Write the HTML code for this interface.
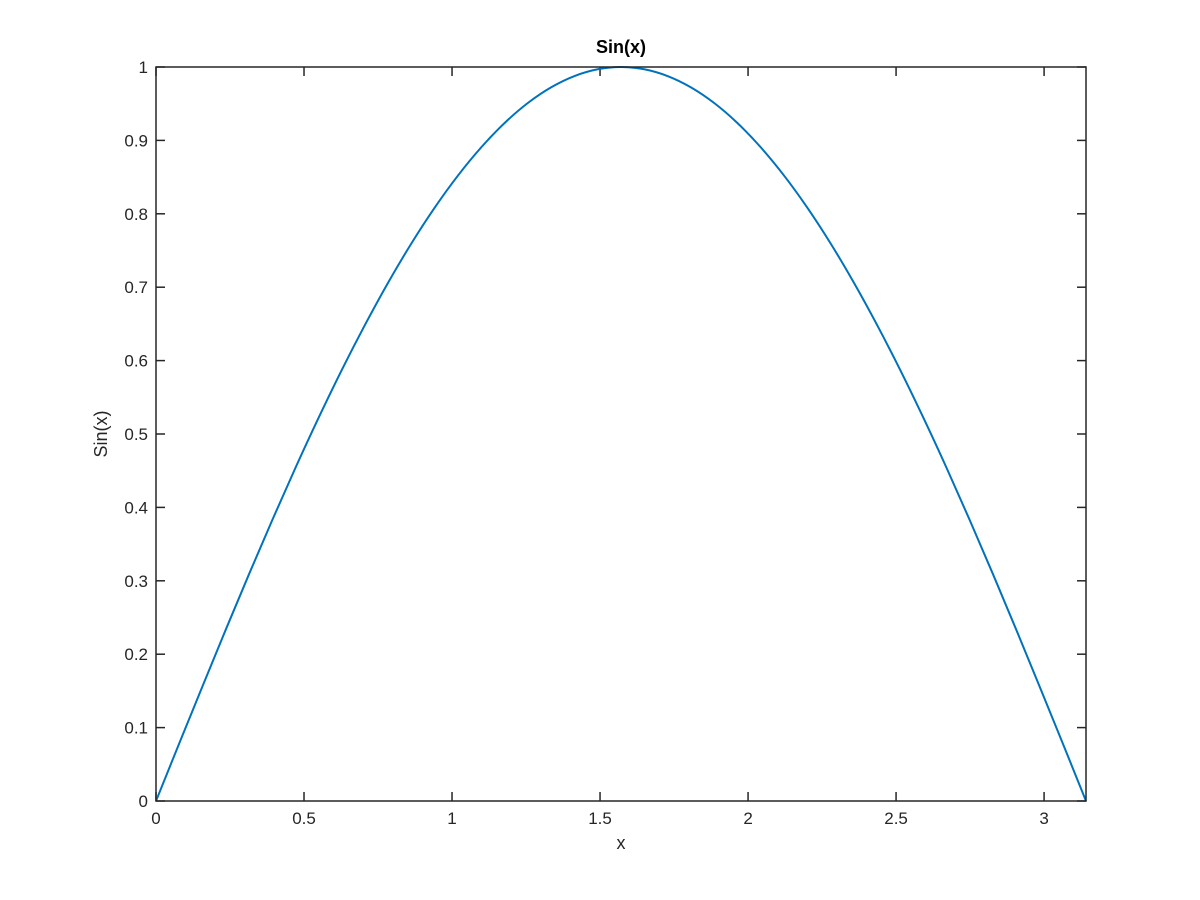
<!DOCTYPE html>
<html><head><meta charset="utf-8"><style>
html,body{margin:0;padding:0;background:#fff;}
svg{display:block;font-family:"Liberation Sans",sans-serif;}
</style></head><body>
<svg id="chart" width="1200" height="900">
<rect x="0" y="0" width="1200" height="900" fill="#fff"/>
</svg>
<script>
const xValues=[0,0.0785,0.1571,0.2356,0.3142,0.3927,0.4712,0.5498,0.6283,0.7069,0.7854,0.8639,0.9425,1.0210,1.0996,1.1781,1.2566,1.3352,1.4137,1.4923,1.5708,1.6493,1.7279,1.8064,1.8850,1.9635,2.0420,2.1206,2.1991,2.2777,2.3562,2.4347,2.5133,2.5918,2.6704,2.7489,2.8274,2.9060,2.9845,3.0631,3.1416];
const yValues=[0,0.0785,0.1564,0.2334,0.3090,0.3827,0.4540,0.5225,0.5878,0.6494,0.7071,0.7604,0.8090,0.8526,0.8910,0.9239,0.9511,0.9724,0.9877,0.9969,1,0.9969,0.9877,0.9724,0.9511,0.9239,0.8910,0.8526,0.8090,0.7604,0.7071,0.6494,0.5878,0.5225,0.4540,0.3827,0.3090,0.2334,0.1564,0.0785,0];
const xTicks=[0,0.5,1,1.5,2,2.5,3];
const xTickLabels=["0","0.5","1","1.5","2","2.5","3"];
const yTicks=[0,0.1,0.2,0.3,0.4,0.5,0.6,0.7,0.8,0.9,1];
const yTickLabels=["0","0.1","0.2","0.3","0.4","0.5","0.6","0.7","0.8","0.9","1"];
const xMin=0,xMax=3.1416,yMin=0,yMax=1;
const L=156,R=1086,T=67,B=801;
const NS="http://www.w3.org/2000/svg";
const svg=document.getElementById('chart');
function sx(v){return L+(v-xMin)/(xMax-xMin)*(R-L);}
function sy(v){return B-(v-yMin)/(yMax-yMin)*(B-T);}
function mk(tag,attrs){const e=document.createElementNS(NS,tag);for(const k in attrs)e.setAttribute(k,attrs[k]);svg.appendChild(e);return e;}
const tc="#262626";
// ticks
xTicks.forEach((t,i)=>{
  const x=sx(t);
  const a=mk('line',{x1:x,y1:B,x2:x,y2:B-9,stroke:tc,'stroke-width':1.5});
  
  
  const b=mk('line',{x1:x,y1:T,x2:x,y2:T+9,stroke:tc,'stroke-width':1.5});
  
  
  const l=mk('text',{x:x,y:B+23,'text-anchor':'middle','font-size':17,fill:tc});
  l.textContent=xTickLabels[i];
  
  
});
yTicks.forEach((t,i)=>{
  const y=sy(t);
  const a=mk('line',{x1:L,y1:y,x2:L+9,y2:y,stroke:tc,'stroke-width':1.5});
  
  
  const b=mk('line',{x1:R,y1:y,x2:R-9,y2:y,stroke:tc,'stroke-width':1.5});
  
  
  const l=mk('text',{x:L-8,y:y+6,'text-anchor':'end','font-size':17,fill:tc});
  l.textContent=yTickLabels[i];
  
  
});
// curve (Catmull-Rom smoothing)
const pts=xValues.map((v,i)=>[sx(v),sy(yValues[i])]);
let d='M'+pts[0][0]+','+pts[0][1];
for(let i=0;i<pts.length-1;i++){
  const p0=pts[Math.max(0,i-1)],p1=pts[i],p2=pts[i+1],p3=pts[Math.min(pts.length-1,i+2)];
  const c1=[p1[0]+(p2[0]-p0[0])/6,p1[1]+(p2[1]-p0[1])/6];
  const c2=[p2[0]-(p3[0]-p1[0])/6,p2[1]-(p3[1]-p1[1])/6];
  d+=' C'+c1[0]+','+c1[1]+' '+c2[0]+','+c2[1]+' '+p2[0]+','+p2[1];
}
const line=mk('path',{d:d,fill:'none',stroke:'#0072BD','stroke-width':2});


// box
const box=mk('rect',{x:L,y:T,width:R-L,height:B-T,fill:'none',stroke:tc,'stroke-width':1.5});


// labels
const title=mk('text',{x:(L+R)/2,y:53,'text-anchor':'middle','font-size':18,'font-weight':'bold',fill:'#000'});
title.textContent='Sin(x)';


const xl=mk('text',{x:(L+R)/2,y:849,'text-anchor':'middle','font-size':18,fill:tc});
xl.textContent='x';


const yl=mk('text',{x:0,y:0,'text-anchor':'middle','font-size':18,fill:tc,transform:'translate(107,434) rotate(-90)'});
yl.textContent='Sin(x)';


</script>
</body></html>
